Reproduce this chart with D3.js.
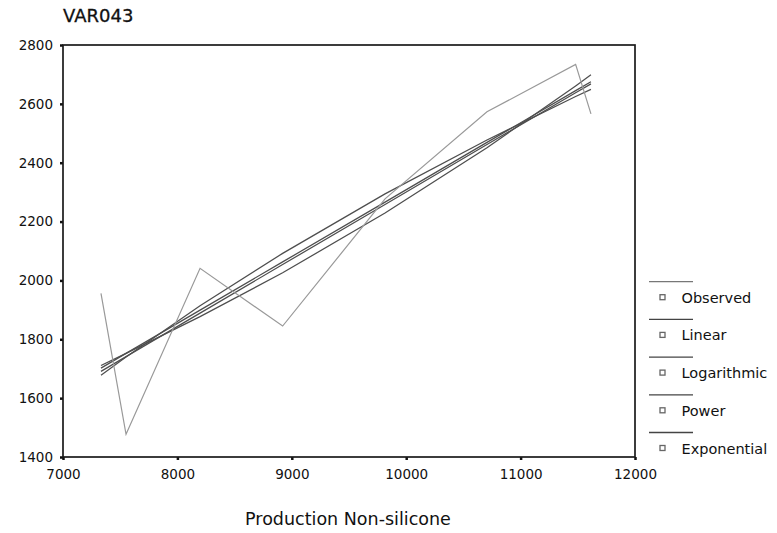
<!DOCTYPE html>
<html>
<head>
<meta charset="utf-8">
<script src="https://cdn.jsdelivr.net/npm/d3@7"></script>
<style>
  html, body { margin: 0; padding: 0; background: #fff; }
  svg { display: block; font-family: "DejaVu Sans", Verdana, sans-serif; }
</style>
</head>
<body>
<svg id="chart" width="777" height="533"></svg>
<script>
// ---- data ----
const xValues      = [7332, 7551, 8198, 8920, 9815, 10706, 11481, 11615];
const observed     = [1956, 1477, 2041, 1845, 2277, 2573, 2734, 2566];
const linearFit    = [1702, 1752, 1899, 2063, 2266, 2469, 2645, 2675];
const logFit       = [1678, 1740, 1914, 2092, 2294, 2477, 2625, 2649];
const powerFit     = [1691, 1741, 1889, 2054, 2258, 2462, 2638, 2668];
const expFit       = [1711, 1752, 1877, 2026, 2229, 2451, 2661, 2699];
const xTicks       = [7000, 8000, 9000, 10000, 11000, 12000];
const yTicks       = [1400, 1600, 1800, 2000, 2200, 2400, 2600, 2800];
const legendLabels = ["Observed", "Linear", "Logarithmic", "Power", "Exponential"];
const titleText    = "VAR043";
const xTitleText   = "Production Non-silicone";

const svg = d3.select("#chart");
const m = { left: 63, right: 635, top: 45, bottom: 457 };

const x = d3.scaleLinear().domain([7000, 12000]).range([m.left, m.right]);
const y = d3.scaleLinear().domain([1400, 2800]).range([m.bottom, m.top]);

// title
svg.append("text").attr("x", 63).attr("y", 21.5)
  .attr("font-size", 18).attr("fill", "#111")
  .attr("stroke", "#111").attr("stroke-width", 0.3).text(titleText);

// y axis
const yAxis = svg.append("g").attr("transform", `translate(${m.left},0)`)
  .call(d3.axisLeft(y).tickValues(yTicks).tickSize(3).tickPadding(7).tickFormat(d3.format("d")));
yAxis.selectAll("text").attr("font-size", 13.5).attr("fill", "#111")
  .attr("font-family", "DejaVu Sans, sans-serif");
yAxis.selectAll("line").attr("stroke", "#111").attr("stroke-width", 2.5);
yAxis.select(".domain").remove();

// x axis
const xAxis = svg.append("g").attr("transform", `translate(0,${m.bottom})`)
  .call(d3.axisBottom(x).tickValues(xTicks).tickSize(3).tickPadding(9).tickFormat(d3.format("d")));
xAxis.selectAll("text").attr("font-size", 13.5).attr("fill", "#111")
  .attr("font-family", "DejaVu Sans, sans-serif");
xAxis.selectAll("line").attr("stroke", "#111").attr("stroke-width", 2.5);
xAxis.select(".domain").remove();

// frame
svg.append("rect").attr("x", m.left).attr("y", m.top)
  .attr("width", m.right - m.left).attr("height", m.bottom - m.top)
  .attr("fill", "none").attr("stroke", "#1a1a1a").attr("stroke-width", 1.7);

// lines
const line = d3.line().x((d, i) => x(xValues[i])).y(d => y(d));
const fits = [linearFit, logFit, powerFit, expFit];
fits.forEach(s => {
  svg.append("path").datum(s).attr("d", line)
    .attr("fill", "none").attr("stroke", "#4e4e4e").attr("stroke-width", 1.25);
});
svg.append("path").datum(observed).attr("d", line)
  .attr("fill", "none").attr("stroke", "#999").attr("stroke-width", 1.2);

// x title
svg.append("text").attr("x", 348).attr("y", 525).attr("text-anchor", "middle")
  .attr("font-size", 17.5).attr("fill", "#111").text(xTitleText);

// legend
const lg = svg.append("g");
legendLabels.forEach((lab, i) => {
  const y0 = 281.7 + i * 37.7;
  lg.append("line").attr("x1", 649).attr("x2", 693).attr("y1", y0).attr("y2", y0)
    .attr("stroke", i === 0 ? "#777" : "#444").attr("stroke-width", 1.3);
  lg.append("rect").attr("x", 660).attr("y", y0 + 13).attr("width", 5).attr("height", 5)
    .attr("fill", "#fff").attr("stroke", "#666").attr("stroke-width", 1.3);
  lg.append("text").attr("x", 681.5).attr("y", y0 + 21)
    .attr("font-size", 14.5).attr("fill", "#111").text(lab);
});
</script>
</body>
</html>
